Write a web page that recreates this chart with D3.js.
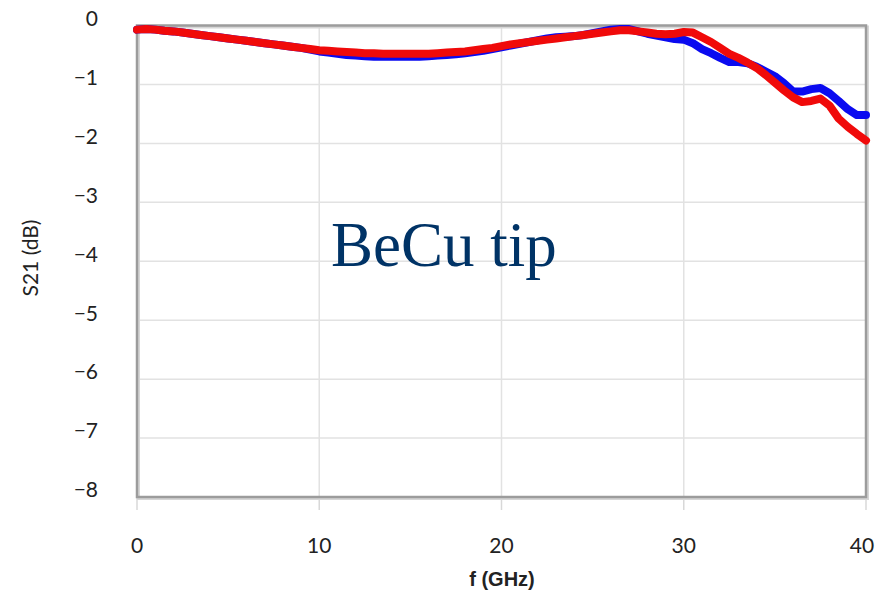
<!DOCTYPE html>
<html>
<head>
<meta charset="utf-8">
<script src="https://cdn.jsdelivr.net/npm/d3@7"></script>
<style>
  html, body { margin: 0; padding: 0; background: #fff; }
  svg { display: block; }
</style>
</head>
<body>
<svg id="chart" width="886" height="597"></svg>
<script>
// ---- data ----
const freqGHz = d3.range(0, 40.001, 0.5).map(v => +v.toFixed(1));

const redS21 = [
  -0.07, -0.06, -0.07, -0.09, -0.10, -0.12, -0.14, -0.16, -0.18, -0.20,
  -0.22, -0.24, -0.26, -0.28, -0.30, -0.32, -0.34, -0.36, -0.38, -0.40,
  -0.42, -0.43, -0.44, -0.45, -0.46, -0.47, -0.47, -0.48, -0.48, -0.48,
  -0.48, -0.48, -0.48, -0.47, -0.46, -0.45, -0.44, -0.42, -0.40, -0.38,
  -0.35, -0.32, -0.30, -0.28, -0.26, -0.24, -0.22, -0.20, -0.18, -0.16,
  -0.14, -0.12, -0.10, -0.08, -0.08, -0.10, -0.12, -0.14, -0.15, -0.14,
  -0.11, -0.12, -0.20, -0.28, -0.38, -0.48, -0.55, -0.63, -0.72, -0.84,
  -0.97, -1.10, -1.22, -1.30, -1.28, -1.24, -1.36, -1.58, -1.72, -1.84,
  -1.95
];

const blueS21 = [
  -0.07, -0.06, -0.07, -0.09, -0.10, -0.12, -0.14, -0.16, -0.18, -0.20,
  -0.22, -0.24, -0.26, -0.28, -0.30, -0.32, -0.34, -0.36, -0.38, -0.41,
  -0.44, -0.46, -0.48, -0.50, -0.51, -0.52, -0.53, -0.53, -0.53, -0.53,
  -0.53, -0.53, -0.52, -0.51, -0.50, -0.49, -0.47, -0.45, -0.43, -0.40,
  -0.37, -0.34, -0.31, -0.28, -0.25, -0.22, -0.20, -0.19, -0.18, -0.16,
  -0.13, -0.10, -0.07, -0.06, -0.06, -0.10, -0.14, -0.17, -0.20, -0.23,
  -0.24, -0.30, -0.40, -0.47, -0.55, -0.62, -0.62, -0.64, -0.70, -0.78,
  -0.86, -0.98, -1.12, -1.12, -1.08, -1.06, -1.15, -1.28, -1.42, -1.52,
  -1.52
];

const xTicks = [0, 10, 20, 30, 40];
const yTicks = [0, -1, -2, -3, -4, -5, -6, -7, -8];
const xTitle = "f (GHz)";
const yTitle = "S21 (dB)";
const annotation = "BeCu tip";

// ---- layout ----
const svg = d3.select("#chart");
const pL = 137, pR = 866, pT = 25.5, pB = 497;

const x = d3.scaleLinear().domain([0, 40]).range([pL, pR]);
const y = d3.scaleLinear().domain([0, -8]).range([pT, pB]);

// gridlines
const grid = svg.append("g");
grid.selectAll("line.h").data(yTicks.filter(t => t !== 0 && t !== -8)).join("line")
  .attr("x1", pL).attr("x2", pR)
  .attr("y1", d => y(d)).attr("y2", d => y(d))
  .attr("stroke", "#e2e2e2").attr("stroke-width", 1.5);
grid.selectAll("line.v").data(xTicks.filter(t => t !== 0 && t !== 40)).join("line")
  .attr("x1", d => x(d)).attr("x2", d => x(d))
  .attr("y1", pT).attr("y2", pB)
  .attr("stroke", "#e2e2e2").attr("stroke-width", 1.5);

// x tick marks below frame
svg.append("g").selectAll("line").data(xTicks).join("line")
  .attr("x1", d => x(d)).attr("x2", d => x(d))
  .attr("y1", pB).attr("y2", pB + 13)
  .attr("stroke", "#d8d8d8").attr("stroke-width", 1.5);

// frame shadow + frame
svg.append("rect")
  .attr("x", pL + 1.5).attr("y", pT + 1.5)
  .attr("width", pR - pL).attr("height", pB - pT)
  .attr("fill", "none").attr("stroke", "#d6d6d6").attr("stroke-width", 3);
svg.append("rect")
  .attr("x", pL).attr("y", pT)
  .attr("width", pR - pL).attr("height", pB - pT)
  .attr("fill", "none").attr("stroke", "#9c9c9c").attr("stroke-width", 2.5);

// lines
const line = d3.line().x(d => x(d[0])).y(d => y(d[1])).curve(d3.curveLinear);
const blueData = freqGHz.map((f, i) => [f, blueS21[i]]);
const redData = freqGHz.map((f, i) => [f, redS21[i]]);

svg.append("path").datum(blueData)
  .attr("d", line).attr("fill", "none")
  .attr("stroke", "#0a0af0").attr("stroke-width", 8)
  .attr("stroke-linejoin", "round").attr("stroke-linecap", "round");
svg.append("path").datum(redData)
  .attr("d", line).attr("fill", "none")
  .attr("stroke", "#f00a0a").attr("stroke-width", 8)
  .attr("stroke-linejoin", "round").attr("stroke-linecap", "round");

// axis labels
const tickFont = "Lato, 'Open Sans', sans-serif";
svg.append("g").selectAll("text").data(yTicks).join("text")
  .attr("x", 98).attr("y", d => y(d) - 5)
  .attr("text-anchor", "end").attr("dominant-baseline", "middle")
  .attr("font-family", tickFont).attr("font-size", 21).attr("fill", "#222")
  .text(d => d === 0 ? "0" : "\u2212" + Math.abs(d));

svg.append("g").selectAll("text").data(xTicks).join("text")
  .attr("x", d => x(d) + (d === 40 ? -4 : 0)).attr("y", 553)
  .attr("text-anchor", "middle")
  .attr("font-family", tickFont).attr("font-size", 21).attr("fill", "#222")
  .text(d => d);

svg.append("text")
  .attr("x", 502).attr("y", 586)
  .attr("text-anchor", "middle")
  .attr("font-family", "'Liberation Sans', Arial, sans-serif")
  .attr("font-weight", "bold").attr("font-size", 20).attr("fill", "#222")
  .text(xTitle);

svg.append("text")
  .attr("transform", "translate(38,258) rotate(-90)")
  .attr("text-anchor", "middle")
  .attr("font-family", tickFont).attr("font-size", 21).attr("fill", "#222")
  .text(yTitle);

svg.append("text")
  .attr("x", 331).attr("y", 266)
  .attr("font-family", "'Liberation Serif', 'Times New Roman', serif")
  .attr("font-size", 63).attr("fill", "#003366")
  .text(annotation);
</script>
</body>
</html>
